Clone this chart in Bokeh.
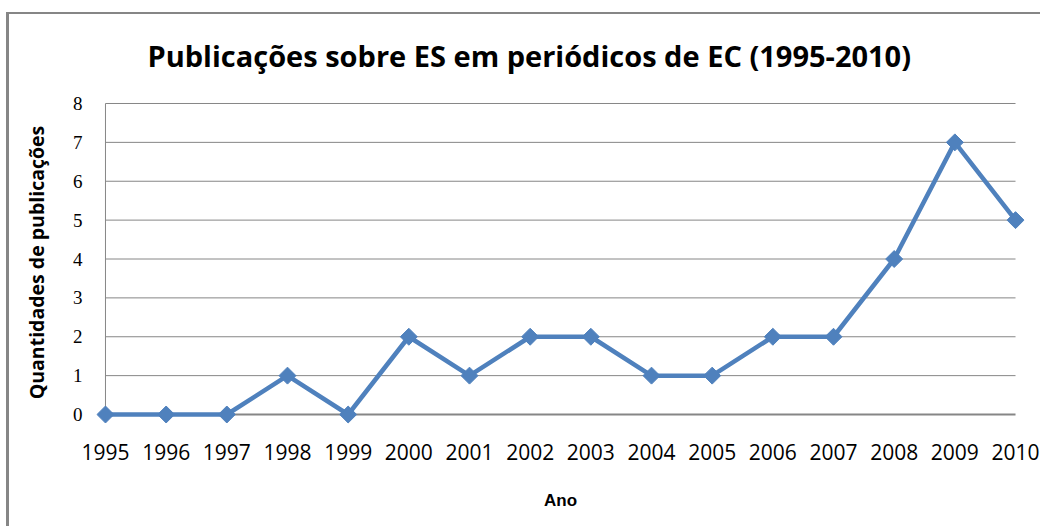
import math
from bokeh.plotting import figure
from bokeh.models import FixedTicker, Range1d, ColumnDataSource
from bokeh.embed import file_html
from bokeh.resources import INLINE

years = [1995, 1996, 1997, 1998, 1999, 2000, 2001, 2002, 2003, 2004, 2005, 2006, 2007, 2008, 2009, 2010]
counts = [0, 0, 0, 1, 0, 2, 1, 2, 2, 1, 1, 2, 2, 4, 7, 5]
y_ticks = [0, 1, 2, 3, 4, 5, 6, 7, 8]
title_text = "Publicações sobre ES em periódicos de EC (1995-2010)"
x_label = "Ano"
y_label = "Quantidades de publicações"

line_color = "#4F81BD"
grid_color = "#868686"

p = figure(width=1040, height=526, output_backend="svg", toolbar_location=None,
           x_range=Range1d(1994.852, 2010.148), y_range=Range1d(-0.257, 8.077),
           min_border_left=96, min_border_right=16, min_border_top=100, min_border_bottom=102,
           title=title_text)
# chart-area border (left and top edges visible), drawn behind a transparent canvas
p.border_fill_color = None
p.background_fill_color = None
p.styles = {
    "background-image": "linear-gradient(#868686, #868686), linear-gradient(#868686, #868686)",
    "background-size": "3px 100%, 100% 2px",
    "background-position": "6px 12px, 6px 12px",
    "background-repeat": "no-repeat",
}
p.outline_line_color = None
p.xgrid.visible = False
p.ygrid.visible = False

p.title.text_font = "Open Sans"
p.title.text_font_style = "bold"
p.title.text_font_size = "29px"
p.title.text_color = "black"
p.title.align = "left"
p.title.offset = 51
p.title.standoff = 51

# gridlines across the plot area (1995..2010)
gx0 = [years[0]] * len(y_ticks)
gx1 = [years[-1]] * len(y_ticks)
p.segment(x0=gx0[1:], x1=gx1[1:], y0=y_ticks[1:], y1=y_ticks[1:], line_color=grid_color, line_width=1)
# plot-area left edge
p.segment(x0=[years[0]], x1=[years[0]], y0=[y_ticks[0]], y1=[y_ticks[-1]], line_color=grid_color, line_width=1)
# category axis line at 0
p.segment(x0=[years[0]], x1=[years[-1]], y0=[y_ticks[0]], y1=[y_ticks[0]], line_color=grid_color, line_width=2)

src = ColumnDataSource(dict(x=years, y=counts))
p.line("x", "y", source=src, line_color=line_color, line_width=4.5)
p.scatter("x", "y", source=src, marker="square", angle=math.pi / 4, size=12,
          fill_color=line_color, line_color=line_color, line_width=1)

# axes
for ax in (p.xaxis[0], p.yaxis[0]):
    ax.axis_line_color = None
    ax.major_tick_line_color = None
    ax.minor_tick_line_color = None
    ax.major_label_text_color = "black"

p.xaxis.ticker = FixedTicker(ticks=years)
p.xaxis.major_label_text_font = "Open Sans"
p.xaxis.major_label_text_font_size = "21px"
p.xaxis.major_label_standoff = 13
p.xaxis.axis_label = x_label
p.xaxis.axis_label_text_font = "Liberation Sans"
p.xaxis.axis_label_text_font_style = "bold"
p.xaxis.axis_label_text_font_size = "17px"
p.xaxis.axis_label_text_color = "black"
p.xaxis.axis_label_standoff = 28

p.yaxis.ticker = FixedTicker(ticks=y_ticks)
p.yaxis.major_label_text_font = "Liberation Serif"
p.yaxis.major_label_text_font_size = "19px"
p.yaxis.major_label_standoff = 8
p.yaxis.axis_label = y_label
p.yaxis.axis_label_text_font = "Open Sans"
p.yaxis.axis_label_text_font_style = "bold"
p.yaxis.axis_label_text_font_size = "19.5px"
p.yaxis.axis_label_text_color = "black"
p.yaxis.axis_label_standoff = 20

open("out.html", "w").write(file_html(p, INLINE))
